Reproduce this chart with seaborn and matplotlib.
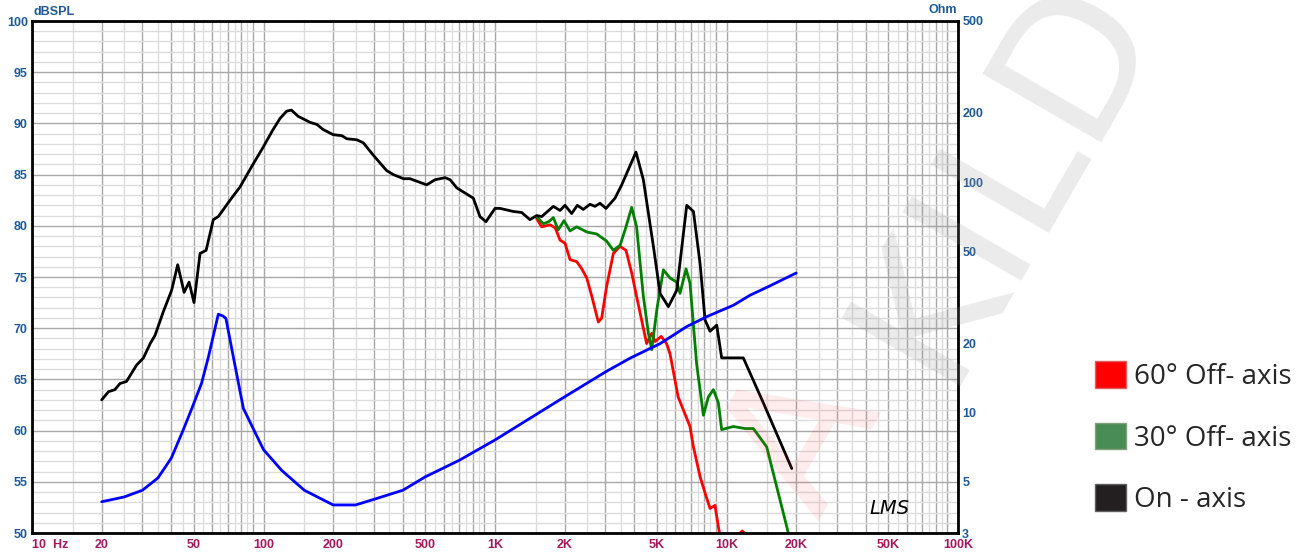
import numpy as np
import pandas as pd
import matplotlib
matplotlib.use("Agg")
import matplotlib.pyplot as plt
from matplotlib.patches import Patch
from matplotlib.ticker import FixedLocator, NullFormatter
import seaborn as sns

# ---------------- data ----------------
on_f = [20, 21.4, 22.8, 24.0, 25.6, 28.3, 30.3, 32.4, 34.0, 36.9, 40.1, 42.6, 45.4, 47.7, 50.1,
        53.2, 56.5, 60.7, 63.8, 71.7, 79.2, 89.0, 99.8, 110, 118, 126, 132, 141, 159, 170, 181,
        200, 218, 229, 253, 270, 298, 340, 364, 402, 429, 507, 551, 609, 640, 684, 806, 861, 914,
        1000, 1051, 1200, 1304, 1416, 1513, 1591, 1787, 1910, 2006, 2144, 2268, 2407, 2572, 2703,
        2842, 3017, 3300, 3527, 4064, 4374, 4832, 5165, 5610, 6097, 6733, 7197, 7690, 8080, 8489,
        9074, 9530, 11820, 14430, 19140]
on_db = [63.0, 63.8, 64.0, 64.6, 64.8, 66.4, 67.1, 68.5, 69.3, 71.6, 73.7, 76.2, 73.5, 74.5, 72.5,
         77.3, 77.6, 80.6, 80.9, 82.5, 83.8, 85.8, 87.7, 89.4, 90.5, 91.2, 91.3, 90.7, 90.1, 89.9, 89.4,
         88.9, 88.8, 88.5, 88.4, 88.1, 86.9, 85.4, 85.0, 84.6, 84.6, 84.0, 84.5, 84.7, 84.5, 83.7, 82.7,
         80.9, 80.4, 81.7, 81.7, 81.4, 81.3, 80.6, 81.0, 80.9, 81.9, 81.5, 82.0, 81.2, 82.0, 81.6, 82.1,
         81.9, 82.2, 81.7, 82.7, 84.0, 87.2, 84.5, 78.0, 73.4, 72.1, 73.7, 82.0, 81.4, 76.3, 70.8, 69.7,
         70.3, 67.1, 67.1, 62.7, 56.3]

off30_f = [1513, 1618, 1705, 1787, 1875, 1986, 2109, 2254, 2491, 2750, 3036, 3245, 3470, 3646, 3895,
           4089, 4374, 4600, 4754, 5000, 5338, 5702, 6097, 6300, 6686, 6955, 7431, 7948, 8354, 8778,
           9224, 9530, 10710, 12020, 13060, 14920, 16480, 18500, 20000]
off30_db = [80.9, 80.2, 80.4, 80.8, 79.6, 80.5, 79.5, 79.9, 79.4, 79.2, 78.5, 77.6, 78.1, 79.6, 81.8,
            79.9, 73.1, 69.5, 67.9, 71.8, 75.7, 74.9, 74.5, 73.4, 75.8, 74.4, 66.5, 61.5, 63.3, 64.0,
            62.7, 60.1, 60.4, 60.2, 60.2, 58.4, 54.5, 50.0, 47.5]

off60_f = [1513, 1591, 1730, 1820, 1910, 2006, 2109, 2254, 2370, 2491, 2620, 2795, 2890, 3036, 3245,
           3470, 3680, 3895, 4089, 4518, 4754, 4916, 5222, 5510, 5702, 6180, 6955, 7197, 7690, 8080,
           8489, 8918, 9224, 9600, 10300, 11200, 11700, 12400, 14000, 17000, 19500, 20000]
off60_db = [80.7, 79.9, 80.1, 79.8, 78.6, 78.3, 76.7, 76.5, 75.8, 74.9, 73.1, 70.6, 71.0, 74.1, 77.3,
            78.0, 77.6, 75.4, 73.1, 68.5, 69.5, 68.7, 69.2, 68.5, 67.5, 63.3, 60.4, 58.4, 55.5, 53.9,
            52.4, 52.7, 50.6, 48.5, 48.8, 49.8, 50.2, 49.6, 47.0, 47.0, 49.8, 49.4]

imp_f = [20, 25, 30, 35, 40, 45, 49, 54, 57.8, 63.8, 67, 68.8, 74.1, 81.9, 100, 120, 150, 200, 250,
         300, 400, 500, 700, 1000, 2000, 3000, 3828, 5165, 6733, 8250, 10710, 12650, 15000, 20000]
imp_ohm = [4.1, 4.3, 4.6, 5.2, 6.35, 8.4, 10.4, 13.4, 17.4, 26.7, 26.2, 25.6, 17.4, 10.4, 6.9, 5.6,
           4.6, 3.97, 3.97, 4.2, 4.6, 5.26, 6.2, 7.6, 11.7, 15.0, 17.2, 19.9, 23.6, 26.1, 29.2, 32.3,
           35.0, 40.3]

x_tick_vals = [10, 20, 50, 100, 200, 500, 1000, 2000, 5000, 10000, 20000, 50000, 100000]
x_tick_text = ["10  Hz", "20", "50", "100", "200", "500", "1K", "2K", "5K", "10K", "20K", "50K", "100K"]
y_tick_vals = [50, 55, 60, 65, 70, 75, 80, 85, 90, 95, 100]
ohm_tick_vals = [3, 5, 10, 20, 50, 100, 200, 500]
legend_labels = ["60° Off- axis", "30° Off- axis", "On - axis"]

# ---------------- style ----------------
sns.set_style("white")
plt.rcParams["font.family"] = ["Liberation Sans", "DejaVu Sans"]

BLUE_TXT = "#1f5a96"
RED_TXT = "#a3195b"

fig = plt.figure(figsize=(13.1, 5.56), dpi=100)
ax = fig.add_axes([32 / 1310, 23 / 556, 926 / 1310, 512 / 556])
ax2 = ax.twinx()

df_on = pd.DataFrame({"f": on_f, "db": on_db})
df_30 = pd.DataFrame({"f": off30_f, "db": off30_db})
df_60 = pd.DataFrame({"f": off60_f, "db": off60_db})
df_imp = pd.DataFrame({"f": imp_f, "ohm": imp_ohm})

ax.set_xscale("log")
ax2.set_yscale("log")
sns.lineplot(data=df_60, x="f", y="db", ax=ax, color="#ff0000", linewidth=2.0, estimator=None, sort=False)
sns.lineplot(data=df_30, x="f", y="db", ax=ax, color="#008000", linewidth=2.0, estimator=None, sort=False)
sns.lineplot(data=df_on, x="f", y="db", ax=ax, color="black", linewidth=2.0, estimator=None, sort=False)
sns.lineplot(data=df_imp, x="f", y="ohm", ax=ax2, color="#0000ff", linewidth=2.0, estimator=None, sort=False)

ax.set_xlabel(""); ax.set_ylabel("")
ax2.set_xlabel(""); ax2.set_ylabel("")
ax.set_xlim(10, 100000)
ax.set_ylim(50, 100)
ax2.set_ylim(3, 500)

# x grid: integer multiples (darker) and half steps (lighter)
major_x = []
minor_x = []
for dec in [10, 100, 1000, 10000]:
    for m in range(1, 10):
        major_x.append(dec * m)
        if m < 9:
            minor_x.append(dec * (m + 0.5))
major_x.append(100000)
ax.xaxis.set_major_locator(FixedLocator(major_x))
ax.xaxis.set_minor_locator(FixedLocator(minor_x))
ax.xaxis.set_major_formatter(NullFormatter())
ax.xaxis.set_minor_formatter(NullFormatter())
ax.yaxis.set_major_locator(FixedLocator(y_tick_vals))
ax.yaxis.set_minor_locator(FixedLocator(list(np.arange(50, 101, 1))))
ax.set_yticklabels([str(v) for v in y_tick_vals], color=BLUE_TXT, fontweight="bold", fontsize=9)
ax.grid(True, which="major", axis="both", color="#a8a8a8", linewidth=1.0)
ax.grid(True, which="minor", axis="both", color="#dcdcdc", linewidth=1.0)
ax.tick_params(which="both", length=0)
ax.tick_params(axis="y", pad=3)
ax.set_axisbelow(True)

for v, t in zip(x_tick_vals, x_tick_text):
    ha = "left" if v == 10 else "center"
    ax.text(v, -0.012, t, transform=ax.get_xaxis_transform(),
            ha=ha, va="top", color=RED_TXT, fontweight="bold", fontsize=9)

for sp in ax.spines.values():
    sp.set_color("black")
    sp.set_linewidth(2.0)

ax2.yaxis.set_major_locator(FixedLocator(ohm_tick_vals))
ax2.yaxis.set_minor_locator(FixedLocator([]))
ax2.set_yticklabels([str(v) for v in ohm_tick_vals], color=BLUE_TXT, fontweight="bold", fontsize=9)
ax2.tick_params(which="both", length=0, pad=3)
ax2.grid(False)
for sp in ax2.spines.values():
    sp.set_visible(False)

# axis unit labels
fig.text(33 / 1310, 1 - 12 / 556, "dBSPL", color=BLUE_TXT, fontweight="bold", fontsize=9, ha="left", va="center")
fig.text(957 / 1310, 1 - 10 / 556, "Ohm", color=BLUE_TXT, fontweight="bold", fontsize=9, ha="right", va="center")

# LMS logo
ax.text(0.926, 0.03, "LMS", transform=ax.transAxes, fontsize=14, style="italic",
        family="DejaVu Sans", color="black", ha="center", va="bottom")

# watermark
fig.text(1005 / 1310, 1 - 175 / 556, "KILD", fontsize=135, color="#9a9a9a", alpha=0.2,
         rotation=60, ha="center", va="center", family="DejaVu Sans", zorder=0)
fig.text(805 / 1310, 1 - 440 / 556, "A", fontsize=135, color="#ff4040", alpha=0.1,
         rotation=60, ha="center", va="center", family="DejaVu Sans", zorder=0)

# legend
handles = [Patch(facecolor="#ff0000", edgecolor="#e06060"),
           Patch(facecolor="#4a8c55", edgecolor="#80a080"),
           Patch(facecolor="#231f20", edgecolor="#606060")]
fig.legend(handles, legend_labels, loc="upper left", bbox_to_anchor=(1070 / 1310, 1 - 336 / 556),
           frameon=False, handlelength=1.1, handleheight=1.1, handletextpad=0.3,
           labelspacing=1.15, prop={"family": "Open Sans", "size": 20})

fig.savefig("out.png", dpi=100)
